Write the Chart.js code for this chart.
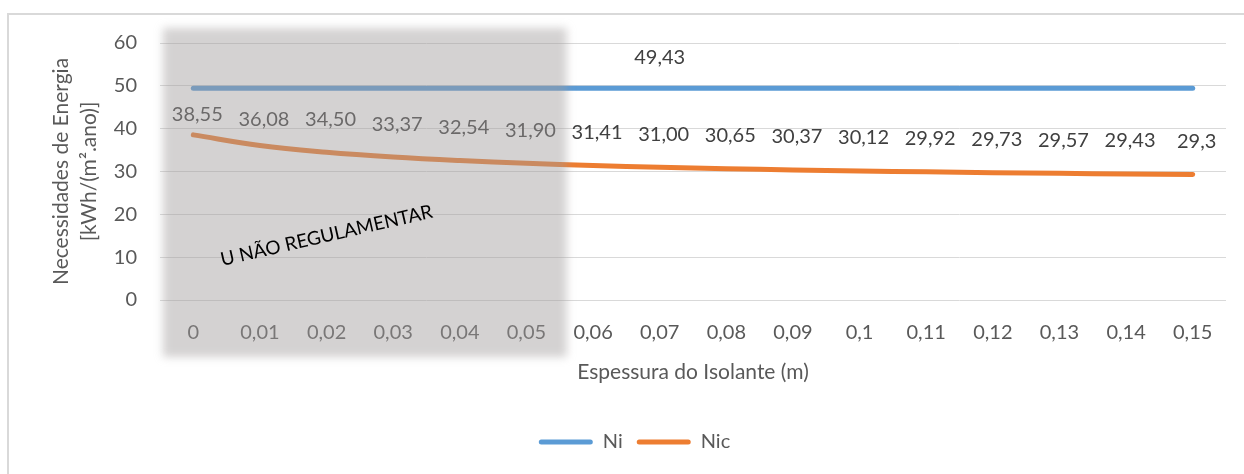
<!DOCTYPE html>
<html>
<head>
<meta charset="utf-8">
<script src="https://cdn.jsdelivr.net/npm/chart.js@4.4.1/dist/chart.umd.min.js"></script>
<style>
  html, body { margin: 0; background: #fff; }
  #wrap { width: 1244px; height: 474px; }
</style>
</head>
<body>
<div id="wrap"><canvas id="chart"></canvas></div>
<script>
const categories = ['0', '0,01', '0,02', '0,03', '0,04', '0,05', '0,06', '0,07',
    '0,08', '0,09', '0,1', '0,11', '0,12', '0,13', '0,14', '0,15'];
const ni = [49.43, 49.43, 49.43, 49.43, 49.43, 49.43, 49.43, 49.43,
    49.43, 49.43, 49.43, 49.43, 49.43, 49.43, 49.43, 49.43];
const nic = [38.55, 36.08, 34.50, 33.37, 32.54, 31.90, 31.41, 31.00,
    30.65, 30.37, 30.12, 29.92, 29.73, 29.57, 29.43, 29.3];
const nicText = ['38,55', '36,08', '34,50', '33,37', '32,54', '31,90', '31,41', '31,00',
    '30,65', '30,37', '30,12', '29,92', '29,73', '29,57', '29,43', '29,3'];
const niText = '49,43';
const niLabelIndex = 7;

const font = 'Lato, "Open Sans", sans-serif';
const grey = '#595959';
// first two labels sit a little lower in the original
const labelLift = [20, 26];

const frame = {
    id: 'frame',
    beforeDraw(chart) {
        const ctx = chart.ctx;
        ctx.save();
        ctx.strokeStyle = '#d9d9d9';
        ctx.lineWidth = 2;
        ctx.strokeRect(8, 14, chart.width + 20, chart.height + 20);
        ctx.restore();
    }
};

// the original frame runs past the right edge, so its legend sits a bit right of centre
const legendShift = {
    id: 'legendShift',
    afterLayout(chart) {
        chart.legend.left += 18;
        chart.legend.right += 18;
    }
};

const valueLabels = {
    id: 'valueLabels',
    afterDatasetsDraw(chart) {
        const ctx = chart.ctx;
        ctx.save();
        ctx.font = '20px ' + font;
        ctx.fillStyle = '#404040';
        ctx.textAlign = 'center';
        ctx.textBaseline = 'middle';
        chart.getDatasetMeta(1).data.forEach((pt, i) => {
            ctx.fillText(nicText[i], pt.x + 4, pt.y - (labelLift[i] ?? 33));
        });
        const p = chart.getDatasetMeta(0).data[niLabelIndex];
        ctx.fillText(niText, p.x, p.y - 31);
        ctx.restore();
    }
};

const shade = {
    id: 'shade',
    afterDraw(chart) {
        const ctx = chart.ctx;
        const x = chart.scales.x, y = chart.scales.y, area = chart.chartArea;
        const left = area.left + 3;
        const right = (x.getPixelForValue(5) + x.getPixelForValue(6)) / 2 + 7;
        const top = area.top - 15, bottom = area.bottom + 57;
        ctx.save();
        ctx.filter = 'blur(4px)';
        ctx.fillStyle = 'rgba(160,156,156,0.45)';
        ctx.fillRect(left, top, right - left, bottom - top);
        ctx.filter = 'none';
        ctx.translate(x.getPixelForValue(2), y.getPixelForValue(15));
        ctx.rotate(-13 * Math.PI / 180);
        ctx.font = '19px ' + font;
        ctx.fillStyle = '#000';
        ctx.textAlign = 'center';
        ctx.textBaseline = 'middle';
        ctx.fillText('U NÃO REGULAMENTAR', 0, 0);
        ctx.restore();
    }
};

new Chart(document.querySelector('#chart'), {
    type: 'line',
    data: {
        labels: categories,
        datasets: [
            {
                label: 'Ni',
                data: ni,
                borderColor: '#5b9bd5',
                backgroundColor: '#5b9bd5',
                borderWidth: 5,
                borderCapStyle: 'round',
                pointRadius: 0,
                tension: 0.4
            },
            {
                label: 'Nic',
                data: nic,
                borderColor: '#ed7d31',
                backgroundColor: '#ed7d31',
                borderWidth: 5,
                borderCapStyle: 'round',
                pointRadius: 0,
                tension: 0.4
            }
        ]
    },
    options: {
        responsive: true,
        maintainAspectRatio: false,
        animation: false,
        layout: { padding: { left: 7, right: 18, top: 43, bottom: 12 } },
        plugins: {
            tooltip: { enabled: false },
            legend: {
                position: 'bottom',
                labels: {
                    boxWidth: 54,
                    boxHeight: 5,
                    padding: 14,
                    color: grey,
                    font: { family: font, size: 20 },
                    generateLabels: chart => Chart.defaults.plugins.legend.labels.generateLabels(chart)
                        .map(l => ({ ...l, lineWidth: 0, fillStyle: l.strokeStyle, borderRadius: 2.5 }))
                }
            }
        },
        scales: {
            x: {
                offset: true,
                grid: { display: false },
                border: { display: false },
                ticks: { color: grey, font: { family: font, size: 20 }, padding: 13, maxRotation: 0 },
                title: {
                    display: true,
                    text: 'Espessura do Isolante (m)',
                    color: grey,
                    font: { family: font, size: 21 },
                    padding: { top: 0, bottom: 33 }
                },
                afterFit: scale => { scale.height = 118; }
            },
            y: {
                min: 0,
                max: 60,
                grid: { color: '#d9d9d9', drawTicks: false },
                border: { display: false },
                ticks: { stepSize: 10, color: grey, font: { family: font, size: 20 }, padding: 23 },
                title: {
                    display: true,
                    text: ['Necessidades de Energia', '[kWh/(m².ano)]'],
                    color: grey,
                    font: { family: font, size: 21, lineHeight: 1.3 },
                    padding: { top: 41, bottom: 0 }
                },
                afterFit: scale => { scale.width = 153; }
            }
        }
    },
    plugins: [frame, legendShift, valueLabels, shade]
});
</script>
</body>
</html>
